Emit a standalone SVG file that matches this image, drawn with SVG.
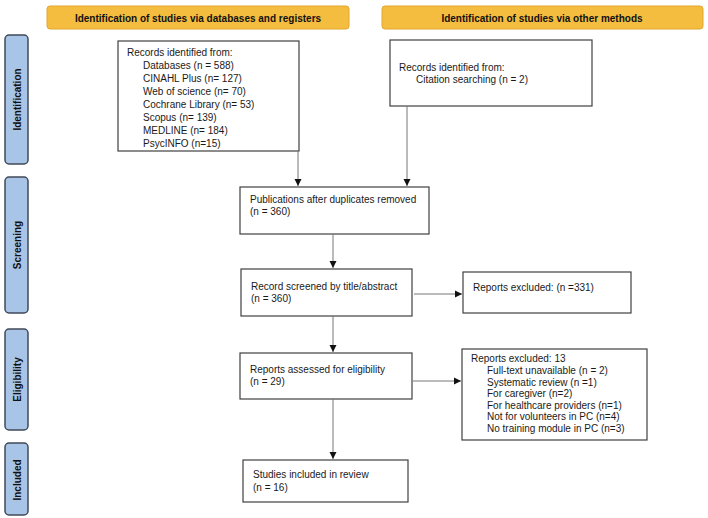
<svg xmlns="http://www.w3.org/2000/svg" width="708" height="518" viewBox="0 0 708 518">
<defs>
<marker id="ah" markerWidth="8" markerHeight="8" refX="7" refY="4" orient="auto" markerUnits="userSpaceOnUse">
<path d="M0,0.5 L7,4 L0,7.5 Z" fill="#111"/>
</marker>
<style>
.hdr{fill:#f5bd3f;stroke:#e3a62c;stroke-width:1}
.side{fill:#a8c4e6;stroke:#404a58;stroke-width:1.5}
.box{fill:#fff;stroke:#404040;stroke-width:1.2}
.t{font-family:"Liberation Sans",Arial,sans-serif;font-size:10px;fill:#1a1a1a}
.b{font-family:"Liberation Sans",Arial,sans-serif;font-size:10px;font-weight:bold;fill:#111}
.con{stroke:#777;stroke-width:1;fill:none;marker-end:url(#ah)}
</style>
</defs>
<rect width="708" height="518" fill="#fff"/>
<g id="header1"><rect class="hdr" x="47" y="6" width="302" height="23" rx="3"/><text class="b" x="198" y="21.5" text-anchor="middle">Identification of studies via databases and registers</text></g>
<g id="header2"><rect class="hdr" x="382" y="6" width="321" height="23" rx="3"/><text class="b" x="542" y="21.5" text-anchor="middle">Identification of studies via other methods</text></g>
<g id="side-identification"><rect class="side" x="5" y="35" width="23" height="129" rx="4"/><text class="b" transform="translate(21,99.5) rotate(-90)" text-anchor="middle">Identification</text></g>
<g id="side-screening"><rect class="side" x="5" y="177" width="23" height="136" rx="4"/><text class="b" transform="translate(21,245) rotate(-90)" text-anchor="middle">Screening</text></g>
<g id="side-eligibility"><rect class="side" x="5" y="329" width="23" height="101" rx="4"/><text class="b" transform="translate(21,379.5) rotate(-90)" text-anchor="middle">Eligibility</text></g>
<g id="side-included"><rect class="side" x="5" y="443" width="23" height="72" rx="4"/><text class="b" transform="translate(21,480) rotate(-90)" text-anchor="middle">Included</text></g>
<g id="records"><rect class="box" x="118" y="41" width="181" height="110"/>
<text class="t" x="127" y="56">Records identified from:</text>
<text class="t" x="143" y="69">Databases (n = 588)</text>
<text class="t" x="143" y="82">CINAHL Plus (n= 127)</text>
<text class="t" x="143" y="95">Web of science (n= 70)</text>
<text class="t" x="143" y="108">Cochrane Library (n= 53)</text>
<text class="t" x="143" y="121">Scopus (n= 139)</text>
<text class="t" x="143" y="134">MEDLINE (n= 184)</text>
<text class="t" x="143" y="147">PsycINFO  (n=15)</text></g>
<g id="citation"><rect class="box" x="390" y="40" width="202" height="66"/>
<text class="t" x="399" y="71">Records identified from:</text>
<text class="t" x="416" y="83">Citation searching (n = 2)</text></g>
<g id="publications"><rect class="box" x="240" y="187" width="189" height="47"/>
<text class="t" x="250" y="203">Publications after duplicates removed</text>
<text class="t" x="250" y="215">(n = 360)</text></g>
<g id="screened"><rect class="box" x="241" y="269" width="171" height="47"/>
<text class="t" x="251" y="290">Record screened by title/abstract</text>
<text class="t" x="251" y="302">(n = 360)</text></g>
<g id="excluded1"><rect class="box" x="463" y="272" width="168" height="41"/>
<text class="t" x="473" y="291">Reports excluded: (n =331)</text></g>
<g id="assessed"><rect class="box" x="240" y="353" width="172" height="46"/>
<text class="t" x="250" y="373">Reports assessed for eligibility</text>
<text class="t" x="250" y="385">(n = 29)</text></g>
<g id="excluded2"><rect class="box" x="462" y="349" width="185" height="91"/>
<text class="t" x="471" y="362">Reports excluded: 13</text>
<text class="t" x="487" y="374">Full-text unavailable (n = 2)</text>
<text class="t" x="487" y="385.5">Systematic review (n =1)</text>
<text class="t" x="487" y="397">For caregiver (n=2)</text>
<text class="t" x="487" y="408.5">For healthcare providers (n=1)</text>
<text class="t" x="487" y="420">Not for volunteers in PC (n=4)</text>
<text class="t" x="487" y="431.5">No training module in PC (n=3)</text></g>
<g id="included"><rect class="box" x="243" y="460" width="165" height="42"/>
<text class="t" x="253" y="478">Studies included in review</text>
<text class="t" x="253" y="491">(n = 16)</text></g>
<g id="connectors">
<line class="con" x1="298" y1="151" x2="298" y2="186"/>
<line class="con" x1="407" y1="106" x2="407" y2="186"/>
<line class="con" x1="333" y1="234" x2="333" y2="268"/>
<line class="con" x1="414" y1="294" x2="462" y2="294"/>
<line class="con" x1="333" y1="316" x2="333" y2="352"/>
<line class="con" x1="413" y1="381" x2="461" y2="381"/>
<line class="con" x1="333" y1="399" x2="333" y2="459"/>
</g>
</svg>
